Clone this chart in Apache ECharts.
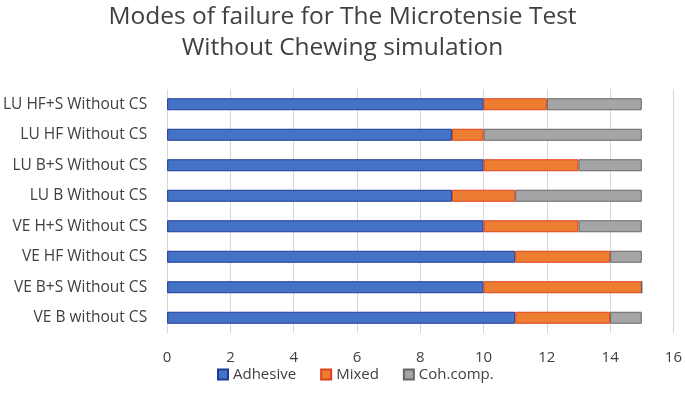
<!DOCTYPE html>
<html>
<head>
<meta charset="utf-8">
<script src="https://cdn.jsdelivr.net/npm/echarts@6/dist/echarts.min.js"></script>
<style>
  html, body { margin: 0; padding: 0; background: #fff; }
  #chart { width: 685px; height: 411px; }
</style>
</head>
<body>
<div id="chart"></div>
<script>
// categories listed bottom to top
var categories = ['VE B without CS', 'VE B+S Without CS', 'VE HF Without CS', 'VE H+S Without CS',
  'LU B Without CS', 'LU B+S Without CS', 'LU HF Without CS', 'LU HF+S Without CS'];
var adhesive = [11, 10, 11, 10, 9, 10, 9, 10];
var mixed = [3, 5, 3, 3, 2, 3, 1, 2];
var cohComp = [1, 0, 1, 2, 4, 2, 5, 3];

var chartDom = document.getElementById('chart');
var myChart = echarts.init(chartDom);

function bar(name, data, color, border) {
  return {
    name: name,
    type: 'bar',
    stack: 'total',
    data: data,
    barWidth: 12,
    itemStyle: { color: color, borderColor: border, borderWidth: 1 }
  };
}

var option = {
  textStyle: { fontFamily: 'Open Sans' },
  title: {
    text: 'Modes of failure for The Microtensie Test\nWithout Chewing simulation',
    left: 'center',
    top: -3,
    textStyle: { fontSize: 24.5, fontWeight: 'normal', color: '#404040', lineHeight: 31, fontFamily: 'Open Sans' }
  },
  legend: {
    bottom: 24,
    left: 212,
    itemWidth: 10,
    itemHeight: 10,
    itemGap: 24,
    icon: 'rect',
    textStyle: { fontSize: 15, color: '#404040' },
    data: ['Adhesive', 'Mixed', 'Coh.comp.']
  },
  grid: { left: 165, right: 9, top: 89, bottom: 78, containLabel: false },
  xAxis: {
    type: 'value',
    min: 0,
    max: 16,
    interval: 2,
    axisLine: { show: false },
    axisTick: { show: false },
    axisLabel: { fontSize: 15, color: '#404040', margin: 17 },
    splitLine: { lineStyle: { color: '#d6d6d6', width: 1 } }
  },
  yAxis: {
    type: 'category',
    data: categories,
    axisLine: { show: false },
    axisTick: { show: false },
    axisLabel: { fontSize: 15.5, color: '#404040', margin: 20 }
  },
  series: [
    bar('Adhesive', adhesive, '#4472C4', '#1f3b9a'),
    bar('Mixed', mixed, '#ED7D31', '#e2401c'),
    bar('Coh.comp.', cohComp, '#A5A5A5', '#666666')
  ]
};

option && myChart.setOption(option);
</script>
</body>
</html>
